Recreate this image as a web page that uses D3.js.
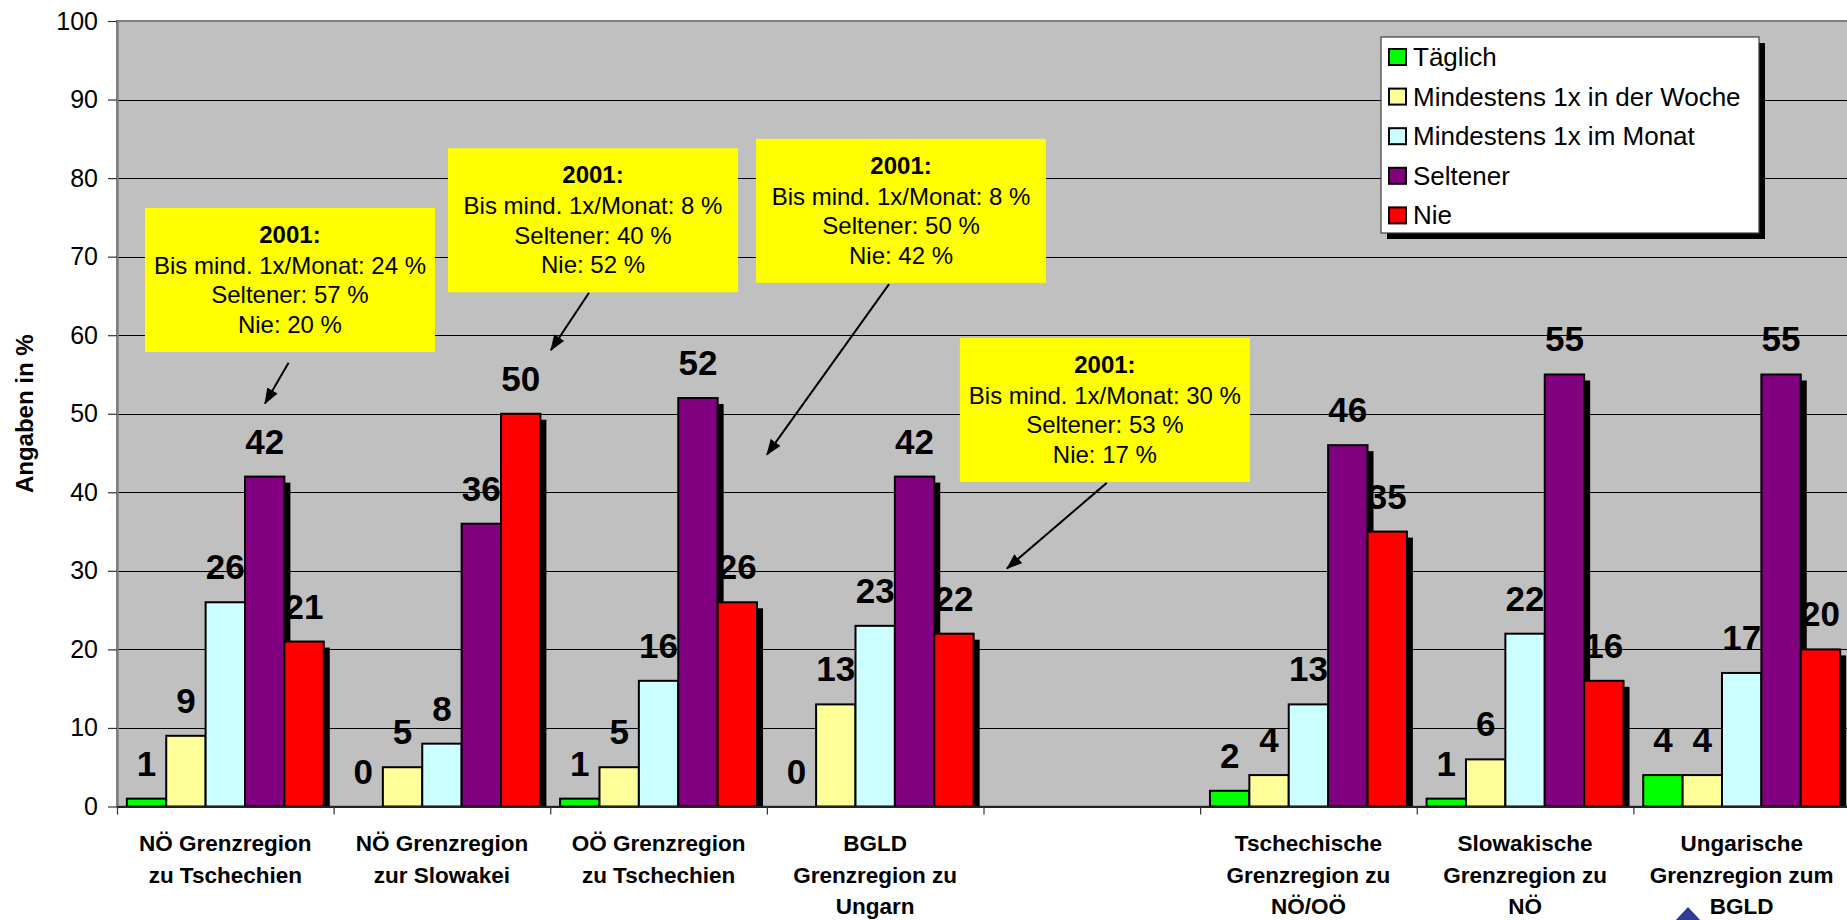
<!DOCTYPE html>
<html>
<head>
<meta charset="utf-8">
<script src="https://cdn.jsdelivr.net/npm/d3@7"></script>
<style>
  html, body { margin: 0; padding: 0; background: #fff; overflow: hidden; }
  svg { display: block; }
  text { font-family: "Liberation Sans", Arial, Helvetica, sans-serif; fill: #000; }
</style>
</head>
<body>
<svg id="chart" width="1847" height="920"></svg>
<script>
// ---- data ----
const categories = [
  ["NÖ Grenzregion", "zu Tschechien"],
  ["NÖ Grenzregion", "zur Slowakei"],
  ["OÖ Grenzregion", "zu Tschechien"],
  ["BGLD", "Grenzregion zu", "Ungarn"],
  [],
  ["Tschechische", "Grenzregion zu", "NÖ/OÖ"],
  ["Slowakische", "Grenzregion zu", "NÖ"],
  ["Ungarische", "Grenzregion zum", "BGLD"]
];
const seriesNames = ["Täglich", "Mindestens 1x in der Woche", "Mindestens 1x im Monat", "Seltener", "Nie"];
const seriesColors = ["#00FF00", "#FFFF99", "#CCFFFF", "#800080", "#FF0000"];
const taeglich  = [1, 0, 1, 0, null, 2, 1, 4];
const woche     = [9, 5, 5, 13, null, 4, 6, 4];
const monat     = [26, 8, 16, 23, null, 13, 22, 17];
const seltener  = [42, 36, 52, 42, null, 46, 55, 55];
const nie       = [21, 50, 26, 22, null, 35, 16, 20];
const yTicks    = [0, 10, 20, 30, 40, 50, 60, 70, 80, 90, 100];
const yTitle    = "Angaben in %";

// 2001 comparison notes
const noteTitle = "2001:";
const noteLines = [
  ["Bis mind. 1x/Monat: 24 %", "Seltener: 57 %", "Nie: 20 %"],
  ["Bis mind. 1x/Monat: 8 %", "Seltener: 40 %", "Nie: 52 %"],
  ["Bis mind. 1x/Monat: 8 %", "Seltener: 50 %", "Nie: 42 %"],
  ["Bis mind. 1x/Monat: 30 %", "Seltener: 53 %", "Nie: 17 %"]
];
// note box corner and arrow ends, in (category position, percent) units
const noteBox       = [[0.129, 76.2], [1.528, 83.8], [2.950, 85.0], [3.891, 59.65]];
const noteArrowFrom = [[0.792, 56.5], [2.179, 65.4], [3.564, 66.5], [4.569, 41.2]];
const noteArrowTo   = [[0.683, 51.3], [2.003, 58.1], [3.000, 44.8], [4.108, 30.3]];

const seriesValues = [taeglich, woche, monat, seltener, nie];

// ---- layout ----
const plot = { left: 117, right: 1850, top: 21, bottom: 806.5 };
const FONT = '"Liberation Sans", Arial, Helvetica, sans-serif';

const svg = d3.select("#chart");

const x = d3.scaleBand().domain(d3.range(categories.length))
  .range([plot.left, plot.right]).paddingInner(0).paddingOuter(0);
const xEdge = d3.scaleLinear().domain([0, categories.length]).range([plot.left, plot.right]);
const xs = d3.scaleBand().domain(d3.range(seriesNames.length))
  .range([0, x.bandwidth()]).paddingInner(0).paddingOuter(0.25);
const y = d3.scaleLinear().domain([0, 100]).range([plot.bottom, plot.top]);

const defs = svg.append("defs");
defs.append("clipPath").attr("id", "plotClip")
  .append("rect")
  .attr("x", plot.left).attr("y", plot.top)
  .attr("width", plot.right - plot.left).attr("height", plot.bottom - plot.top);
defs.append("marker")
  .attr("id", "arrowHead")
  .attr("viewBox", "0 0 16 12")
  .attr("refX", 15).attr("refY", 6)
  .attr("markerWidth", 16).attr("markerHeight", 12)
  .attr("markerUnits", "userSpaceOnUse")
  .attr("orient", "auto")
  .append("path").attr("d", "M0,0 L16,6 L0,12 Z").attr("fill", "#000");

// plot area background
svg.append("rect")
  .attr("x", plot.left).attr("y", plot.top)
  .attr("width", plot.right - plot.left).attr("height", plot.bottom - plot.top)
  .attr("fill", "#C0C0C0").attr("stroke", "#808080").attr("stroke-width", 2);

// horizontal gridlines
svg.append("g").selectAll("line")
  .data(yTicks.filter(t => t > 0 && t < 100))
  .join("line")
  .attr("x1", plot.left).attr("x2", plot.right)
  .attr("y1", d => Math.round(y(d)) + 0.5).attr("y2", d => Math.round(y(d)) + 0.5)
  .attr("stroke", "#000").attr("stroke-width", 1);

// bar shadows
const flat = [];
seriesValues.forEach((vals, si) => vals.forEach((v, ci) => {
  if (v !== null) flat.push({ si, ci, v });
}));
const shadowOff = 6;
svg.append("g").attr("clip-path", "url(#plotClip)")
  .selectAll("rect")
  .data(flat.filter(d => d.v > 0))
  .join("rect")
  .attr("x", d => x(d.ci) + xs(d.si) + shadowOff)
  .attr("y", d => y(d.v) + shadowOff)
  .attr("width", xs.bandwidth())
  .attr("height", d => y(0) - y(d.v))
  .attr("fill", "#000");

// bars
svg.append("g")
  .selectAll("rect")
  .data(flat.filter(d => d.v > 0))
  .join("rect")
  .attr("x", d => x(d.ci) + xs(d.si))
  .attr("y", d => y(d.v))
  .attr("width", xs.bandwidth())
  .attr("height", d => y(0) - y(d.v))
  .attr("fill", d => seriesColors[d.si])
  .attr("stroke", "#000").attr("stroke-width", 2);

// y axis
const yAxis = svg.append("g")
  .attr("transform", `translate(${plot.left},0)`)
  .call(d3.axisLeft(y).tickValues(yTicks).tickSize(9).tickSizeOuter(0).tickPadding(10).tickFormat(d3.format("d")));
yAxis.select(".domain").attr("stroke", "#808080").attr("stroke-width", 2.5);
yAxis.selectAll(".tick line").attr("stroke", "#333").attr("stroke-width", 1.2);
yAxis.selectAll(".tick text").style("font-family", FONT).style("font-size", "25px").attr("fill", "#000");

// x axis (ticks between categories)
const xAxis = svg.append("g")
  .attr("transform", `translate(0,${y(0)})`)
  .call(d3.axisBottom(xEdge).tickValues(d3.range(categories.length + 1)).tickSize(8).tickSizeOuter(0).tickFormat(""));
xAxis.select(".domain").attr("stroke", "#222").attr("stroke-width", 2);
xAxis.selectAll(".tick line").attr("stroke", "#333").attr("stroke-width", 1.2);

// category labels
const catG = svg.append("g");
categories.forEach((lines, ci) => {
  const t = catG.append("text")
    .attr("x", x(ci) + x.bandwidth() / 2)
    .attr("y", 851)
    .attr("text-anchor", "middle")
    .style("font-size", "22.5px").style("font-weight", "bold");
  lines.forEach((ln, i) => {
    t.append("tspan").attr("x", x(ci) + x.bandwidth() / 2).attr("dy", i === 0 ? 0 : 31.5).text(ln);
  });
});

// value labels
svg.append("g")
  .selectAll("text")
  .data(flat)
  .join("text")
  .attr("x", d => x(d.ci) + xs(d.si) + xs.bandwidth() / 2)
  .attr("y", d => y(d.v) - 23)
  .attr("text-anchor", "middle")
  .style("font-size", "35px").style("font-weight", "bold")
  .text(d => d.v);

// y axis title
svg.append("text")
  .attr("transform", `translate(33,${(plot.top + plot.bottom) / 2}) rotate(-90)`)
  .attr("text-anchor", "middle")
  .style("font-size", "24px").style("font-weight", "bold")
  .text(yTitle);

// 2001 notes with arrows
const noteW = 290, noteH = 144;
noteLines.forEach((lines, i) => {
  const bx = xEdge(noteBox[i][0]), by = y(noteBox[i][1]);
  const g = svg.append("g");
  g.append("rect").attr("x", bx).attr("y", by).attr("width", noteW).attr("height", noteH).attr("fill", "#FFFF00");
  const cx = bx + noteW / 2;
  g.append("text").attr("x", cx).attr("y", by + 35).attr("text-anchor", "middle")
    .style("font-size", "24px").style("font-weight", "bold").text(noteTitle);
  lines.forEach((ln, j) => {
    g.append("text").attr("x", cx).attr("y", by + 66 + j * 29.5).attr("text-anchor", "middle")
      .style("font-size", "24px").text(ln);
  });
  svg.append("line")
    .attr("x1", xEdge(noteArrowFrom[i][0])).attr("y1", y(noteArrowFrom[i][1]))
    .attr("x2", xEdge(noteArrowTo[i][0])).attr("y2", y(noteArrowTo[i][1]))
    .attr("stroke", "#000").attr("stroke-width", 2)
    .attr("marker-end", "url(#arrowHead)");
});

// legend
const lg = { x: 1381, y: 37, w: 378, h: 196 };
svg.append("rect").attr("x", lg.x + 6).attr("y", lg.y + 6).attr("width", lg.w).attr("height", lg.h).attr("fill", "#000");
svg.append("rect").attr("x", lg.x).attr("y", lg.y).attr("width", lg.w).attr("height", lg.h)
  .attr("fill", "#fff").attr("stroke", "#404040").attr("stroke-width", 1.2);
const legItems = svg.append("g").selectAll("g")
  .data(seriesNames)
  .join("g")
  .attr("transform", (d, i) => `translate(${lg.x + 8},${lg.y + 20 + i * 39.6})`);
legItems.append("rect")
  .attr("x", 0).attr("y", -8).attr("width", 17).attr("height", 16)
  .attr("fill", (d, i) => seriesColors[i]).attr("stroke", "#000").attr("stroke-width", 2);
legItems.append("text")
  .attr("x", 24).attr("y", 9)
  .style("font-size", "26px")
  .text(d => d);

// small navigation marker at the bottom edge
svg.append("path")
  .attr("d", "M1688,907 L1701,921 L1675,921 Z")
  .attr("fill", "#2E3C96");
</script>
</body>
</html>
